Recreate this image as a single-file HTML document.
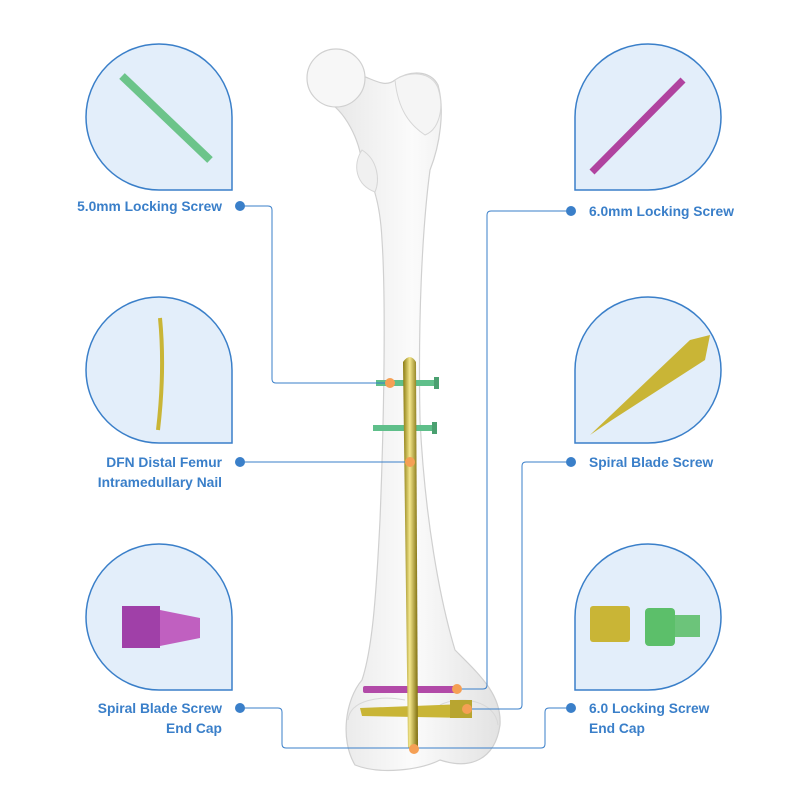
<!DOCTYPE html>
<html><head><meta charset="utf-8"><style>
html,body{margin:0;padding:0;background:#fff}
svg{display:block}
text{font-family:"Liberation Sans",sans-serif;font-weight:bold;font-size:13.8px;fill:#3a7fc9}
</style></head><body>
<svg width="800" height="800" viewBox="0 0 800 800" xmlns="http://www.w3.org/2000/svg">
<defs>
<linearGradient id="gold" x1="0" x2="1"><stop offset="0" stop-color="#8a7a10"/><stop offset=".45" stop-color="#f2e58a"/><stop offset="1" stop-color="#7d6c0c"/></linearGradient>
<linearGradient id="bone" x1="0" x2="1"><stop offset="0" stop-color="#e6e6e6"/><stop offset=".5" stop-color="#fbfbfb"/><stop offset="1" stop-color="#e2e2e2"/></linearGradient>
</defs>
<!-- bone -->
<path d="M325,100 C345,110 360,140 362,165 C372,180 380,200 382,240 C386,300 384,420 380,520 C376,600 372,650 362,680 C345,700 340,740 355,765 C380,775 420,770 440,760 C470,770 495,760 500,725 C502,695 480,675 455,650 C440,600 425,520 420,420 C418,320 422,230 430,170 C440,145 445,110 438,85 C430,70 410,70 395,80 C385,88 375,80 360,75 Z" fill="url(#bone)" stroke="#d0d0d0" stroke-width="1.2"/>
<path d="M362,150 C352,165 356,185 375,192 C380,180 378,160 362,150Z" fill="#f0f0f0" stroke="#d6d6d6"/>
<circle cx="336" cy="78" r="29" fill="#f7f7f7" stroke="#d0d0d0" stroke-width="1.2"/>
<path d="M395,80 C410,70 432,72 438,88 C445,110 438,130 425,135 C410,125 398,110 395,80Z" fill="#f5f5f5" stroke="#d6d6d6"/>
<path d="M348,720 C350,700 380,695 405,700 M440,705 C460,695 495,700 498,725" fill="none" stroke="#d8d8d8"/>
<!-- screws -->
<rect x="376" y="380" width="62" height="6" fill="#5fbf8a"/><rect x="434" y="377" width="5" height="12" fill="#4aa070"/>
<rect x="373" y="425" width="62" height="6" fill="#5fbf8a"/><rect x="432" y="422" width="5" height="12" fill="#4aa070"/>
<rect x="363" y="686" width="97" height="7" rx="2" fill="#b24aa8"/>
<path d="M360,708 L465,704 L470,718 L362,716Z" fill="#c9b536"/>
<rect x="450" y="700" width="22" height="18" fill="#b8a530"/>
<!-- nail -->
<path d="M403,362 Q410,352 416,362 L418,748 L408,748 Z" fill="url(#gold)"/>
<!-- connectors -->
<g fill="none" stroke="#3a7fc9" stroke-width="1">
<path d="M240,206 H268 Q272,206 272,210 V379 Q272,383 276,383 H390"/>
<path d="M571,211 H491 Q487,211 487,215 V685 Q487,689 483,689 H458"/>
<path d="M240,462 H410"/>
<path d="M571,462 H526 Q522,462 522,466 V705 Q522,709 518,709 H467"/>
<path d="M240,708 H278 Q282,708 282,712 V744 Q282,748 286,748 H541 Q545,748 545,744 V712 Q545,708 549,708 H571"/>
</g>
<g fill="#3a7fc9"><circle cx="240" cy="206" r="5"/><circle cx="571" cy="211" r="5"/><circle cx="240" cy="462" r="5"/><circle cx="571" cy="462" r="5"/><circle cx="240" cy="708" r="5"/><circle cx="571" cy="708" r="5"/></g>
<g fill="#f5a055"><circle cx="390" cy="383" r="5"/><circle cx="410" cy="462" r="5"/><circle cx="457" cy="689" r="5"/><circle cx="467" cy="709" r="5"/><circle cx="414" cy="749" r="5"/></g>
<!-- bubbles -->
<g fill="#e3eefa" stroke="#3a7fc9" stroke-width="1.5">
<path d="M232,190 H159 A73,73 0 1 1 232,117 Z"/>
<path d="M232,443 H159 A73,73 0 1 1 232,370 Z"/>
<path d="M232,690 H159 A73,73 0 1 1 232,617 Z"/>
<path d="M575,190 H648 A73,73 0 1 0 575,117 Z"/>
<path d="M575,443 H648 A73,73 0 1 0 575,370 Z"/>
<path d="M575,690 H648 A73,73 0 1 0 575,617 Z"/>
</g>
<!-- parts in bubbles -->
<line x1="122" y1="76" x2="210" y2="160" stroke="#6cc48a" stroke-width="8"/>
<line x1="683" y1="80" x2="592" y2="172" stroke="#b0439f" stroke-width="7"/>
<path d="M160,318 Q165,370 158,430" stroke="#c9b536" stroke-width="4" fill="none"/>
<path d="M590,435 L690,340 L710,335 L705,360 L612,420Z" fill="#c9b536"/>
<rect x="122" y="606" width="38" height="42" fill="#a040a8"/><path d="M160,610 L200,618 L200,638 L160,646Z" fill="#c060c0"/>
<rect x="590" y="606" width="40" height="36" rx="3" fill="#c9b536"/>
<rect x="645" y="608" width="30" height="38" rx="4" fill="#5cbf6a"/><rect x="675" y="615" width="25" height="22" fill="#6cc47a"/>
<!-- labels -->
<text x="222" y="211" text-anchor="end">5.0mm Locking Screw</text>
<text x="589" y="216">6.0mm Locking Screw</text>
<text x="222" y="467" text-anchor="end">DFN Distal Femur</text>
<text x="222" y="487" text-anchor="end">Intramedullary Nail</text>
<text x="589" y="467">Spiral Blade Screw</text>
<text x="222" y="713" text-anchor="end">Spiral Blade Screw</text>
<text x="222" y="733" text-anchor="end">End Cap</text>
<text x="589" y="713">6.0 Locking Screw</text>
<text x="589" y="733">End Cap</text>
</svg>
</body></html>
